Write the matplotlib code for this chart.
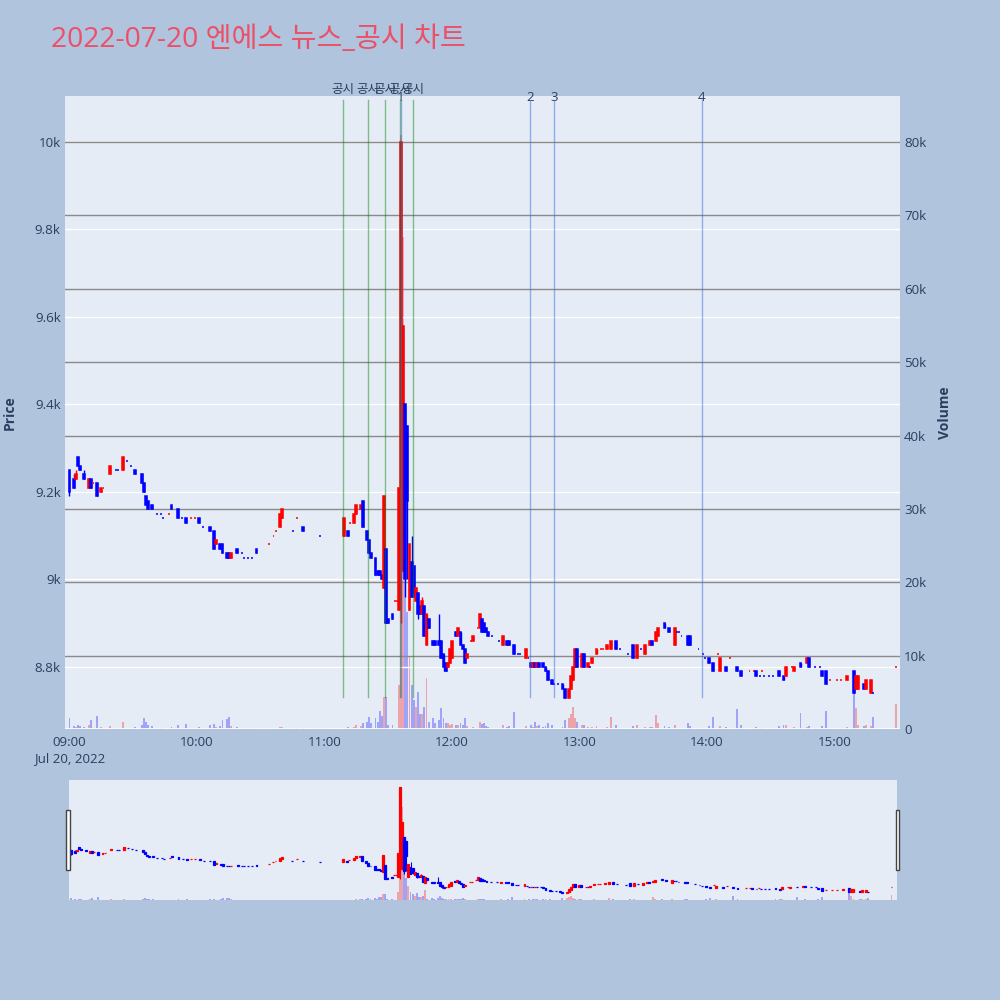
import numpy as np
import matplotlib.pyplot as plt
from matplotlib.patches import Rectangle
from matplotlib.transforms import blended_transform_factory

plt.rcParams['font.family'] = ['Open Sans', 'Noto Sans CJK KR', 'DejaVu Sans']

title = "2022-07-20 엔에스 뉴스_공시 차트"

# minutes after 09:00, one entry per traded minute
minutes = [0, 2, 3, 4, 5, 7, 9, 10, 11, 13, 15, 16, 19, 22, 23, 25, 27, 29, 31, 34,
           35, 36, 37, 39, 41, 43, 44, 47, 48, 51, 53, 55, 57, 59, 61, 63, 66, 68, 69, 71,
           72, 74, 75, 76, 79, 81, 82, 84, 86, 88, 94, 96, 97, 99, 100, 105, 107, 110, 118, 129,
           131, 132, 134, 135, 137, 138, 140, 141, 142, 144, 145, 146, 147, 148, 149, 150, 152, 153, 154, 155,
           156, 157, 158, 159, 160, 161, 162, 163, 164, 165, 166, 167, 168, 169, 171, 172, 174, 175, 176, 177,
           178, 179, 180, 182, 183, 184, 185, 186, 187, 189, 190, 192, 193, 194, 195, 196, 197, 199, 202, 204,
           206, 207, 209, 211, 212, 215, 216, 217, 218, 219, 220, 221, 223, 224, 225, 227, 228, 230, 232, 233,
           235, 236, 237, 238, 239, 241, 242, 244, 245, 246, 248, 250, 251, 253, 255, 257, 259, 263, 265, 267,
           269, 271, 273, 274, 276, 277, 280, 282, 285, 286, 287, 288, 291, 292, 296, 298, 299, 301, 303, 305,
           306, 309, 311, 314, 316, 320, 322, 323, 325, 326, 327, 329, 331, 334, 336, 337, 340, 341, 344, 347,
           348, 351, 353, 354, 356, 358, 361, 363, 366, 369, 370, 371, 374, 375, 377, 378, 389]

opens = [9250, 9230, 9230, 9280, 9260, 9240, 9210, 9230, 9220, 9220, 9200, 9210, 9240, 9250, 9250, 9250, 9270, 9260, 9250, 9240,
         9220, 9190, 9180, 9170, 9150, 9150, 9140, 9150, 9170, 9160, 9140, 9140, 9140, 9140, 9140, 9120, 9120, 9110, 9080, 9080,
         9080, 9060, 9060, 9050, 9070, 9060, 9050, 9050, 9050, 9070, 9080, 9100, 9110, 9120, 9140, 9110, 9140, 9120, 9100, 9100,
         9110, 9130, 9130, 9150, 9160, 9180, 9110, 9090, 9060, 9050, 9020, 9020, 9010, 8980, 9070, 8910, 8920, 8950, 8950, 8930,
         9210, 9020, 9400, 9350, 8930, 9040, 9030, 8950, 8970, 8940, 8920, 8940, 8850, 8910, 8860, 8860, 8860, 8860, 8830, 8810,
         8800, 8810, 8820, 8880, 8870, 8880, 8850, 8840, 8820, 8860, 8860, 8890, 8890, 8910, 8900, 8890, 8880, 8870, 8860, 8850,
         8860, 8860, 8850, 8830, 8830, 8820, 8820, 8810, 8800, 8810, 8800, 8810, 8810, 8800, 8790, 8770, 8760, 8760, 8760, 8750,
         8730, 8750, 8770, 8800, 8840, 8800, 8830, 8800, 8800, 8810, 8830, 8840, 8840, 8840, 8840, 8860, 8840, 8830, 8850, 8820,
         8840, 8830, 8850, 8860, 8860, 8870, 8900, 8890, 8850, 8880, 8880, 8870, 8870, 8870, 8840, 8830, 8820, 8820, 8810, 8830,
         8790, 8800, 8820, 8800, 8790, 8790, 8790, 8790, 8780, 8790, 8780, 8780, 8780, 8790, 8780, 8780, 8800, 8790, 8810, 8810,
         8820, 8800, 8800, 8790, 8790, 8770, 8770, 8770, 8770, 8790, 8750, 8750, 8760, 8750, 8740, 8740, 8800]

highs = [9250, 9240, 9250, 9280, 9260, 9250, 9230, 9230, 9220, 9220, 9210, 9210, 9260, 9250, 9250, 9280, 9270, 9260, 9250, 9240,
         9220, 9190, 9180, 9170, 9150, 9150, 9140, 9150, 9170, 9160, 9140, 9140, 9140, 9140, 9140, 9120, 9120, 9110, 9090, 9080,
         9080, 9060, 9060, 9060, 9070, 9060, 9050, 9050, 9050, 9070, 9080, 9100, 9110, 9150, 9160, 9110, 9140, 9120, 9100, 9140,
         9110, 9130, 9150, 9170, 9170, 9180, 9110, 9090, 9060, 9050, 9020, 9020, 9010, 9190, 9070, 8910, 8920, 8950, 8950, 9210,
         10000, 9580, 9400, 9350, 9080, 9100, 9030, 8980, 8970, 8940, 8960, 8940, 8920, 8910, 8860, 8860, 8920, 8860, 8830, 8810,
         8810, 8840, 8860, 8880, 8890, 8880, 8850, 8840, 8830, 8860, 8870, 8890, 8920, 8910, 8900, 8890, 8880, 8870, 8860, 8870,
         8860, 8860, 8850, 8830, 8830, 8840, 8820, 8810, 8810, 8810, 8810, 8810, 8810, 8800, 8790, 8770, 8760, 8760, 8760, 8750,
         8750, 8780, 8800, 8840, 8840, 8830, 8830, 8810, 8800, 8820, 8840, 8840, 8840, 8850, 8860, 8860, 8840, 8830, 8850, 8850,
         8840, 8850, 8860, 8860, 8880, 8890, 8900, 8890, 8890, 8880, 8880, 8870, 8870, 8870, 8840, 8830, 8820, 8820, 8810, 8830,
         8820, 8800, 8820, 8800, 8790, 8790, 8790, 8790, 8780, 8790, 8780, 8780, 8780, 8790, 8780, 8800, 8800, 8800, 8810, 8820,
         8820, 8800, 8800, 8790, 8790, 8770, 8770, 8770, 8780, 8790, 8780, 8780, 8760, 8770, 8770, 8740, 8800]

lows = [9190, 9210, 9230, 9260, 9250, 9230, 9210, 9210, 9220, 9190, 9200, 9210, 9240, 9250, 9250, 9250, 9270, 9260, 9240, 9220,
        9200, 9170, 9160, 9160, 9150, 9150, 9140, 9150, 9160, 9140, 9140, 9130, 9140, 9140, 9130, 9120, 9110, 9070, 9080, 9070,
        9060, 9050, 9050, 9050, 9060, 9060, 9050, 9050, 9050, 9060, 9080, 9100, 9110, 9120, 9140, 9110, 9140, 9110, 9100, 9100,
        9100, 9130, 9130, 9150, 9160, 9120, 9090, 9060, 9050, 9010, 9010, 9010, 9000, 8980, 8900, 8900, 8910, 8950, 8950, 8930,
        8900, 9020, 8960, 9000, 8930, 8960, 8960, 8950, 8910, 8920, 8920, 8870, 8850, 8890, 8850, 8850, 8850, 8820, 8790, 8790,
        8800, 8810, 8820, 8870, 8870, 8850, 8840, 8810, 8820, 8860, 8860, 8890, 8890, 8880, 8880, 8880, 8870, 8870, 8860, 8850,
        8850, 8850, 8830, 8830, 8830, 8820, 8820, 8800, 8800, 8800, 8800, 8800, 8800, 8790, 8770, 8760, 8760, 8760, 8750, 8730,
        8730, 8750, 8770, 8800, 8800, 8800, 8800, 8800, 8800, 8810, 8830, 8840, 8840, 8840, 8840, 8840, 8840, 8830, 8820, 8820,
        8840, 8830, 8850, 8850, 8860, 8870, 8890, 8880, 8850, 8880, 8880, 8870, 8850, 8850, 8840, 8830, 8820, 8810, 8790, 8830,
        8790, 8790, 8820, 8790, 8780, 8790, 8790, 8780, 8780, 8790, 8780, 8780, 8780, 8780, 8770, 8780, 8800, 8790, 8800, 8810,
        8800, 8800, 8800, 8780, 8760, 8770, 8770, 8770, 8770, 8740, 8750, 8750, 8750, 8750, 8740, 8740, 8800]

closes = [9200, 9210, 9240, 9260, 9250, 9230, 9230, 9210, 9220, 9190, 9210, 9210, 9260, 9250, 9250, 9280, 9270, 9260, 9240, 9220,
          9200, 9170, 9160, 9160, 9150, 9150, 9140, 9150, 9160, 9140, 9140, 9130, 9140, 9140, 9130, 9120, 9110, 9070, 9090, 9070,
          9060, 9050, 9050, 9060, 9060, 9060, 9050, 9050, 9050, 9060, 9080, 9100, 9110, 9150, 9160, 9110, 9140, 9110, 9100, 9140,
          9100, 9130, 9150, 9170, 9170, 9120, 9090, 9060, 9050, 9010, 9010, 9010, 9000, 9190, 8900, 8900, 8910, 8950, 8950, 9210,
          10000, 9580, 9000, 9180, 9080, 8960, 8970, 8980, 8920, 8920, 8950, 8870, 8920, 8890, 8850, 8850, 8850, 8820, 8800, 8790,
          8810, 8840, 8860, 8870, 8890, 8850, 8840, 8810, 8830, 8860, 8870, 8890, 8920, 8880, 8880, 8880, 8870, 8870, 8860, 8870,
          8850, 8850, 8830, 8830, 8830, 8840, 8820, 8800, 8810, 8800, 8810, 8800, 8800, 8790, 8770, 8760, 8760, 8760, 8750, 8730,
          8750, 8780, 8800, 8840, 8800, 8830, 8800, 8810, 8800, 8820, 8840, 8840, 8840, 8850, 8860, 8840, 8840, 8830, 8820, 8850,
          8840, 8850, 8860, 8850, 8880, 8890, 8890, 8880, 8890, 8880, 8880, 8870, 8850, 8850, 8840, 8830, 8820, 8810, 8790, 8830,
          8820, 8790, 8820, 8790, 8780, 8790, 8790, 8780, 8780, 8790, 8780, 8780, 8780, 8780, 8770, 8800, 8800, 8800, 8800, 8820,
          8800, 8800, 8800, 8780, 8760, 8770, 8770, 8770, 8780, 8740, 8780, 8780, 8750, 8770, 8770, 8740, 8800]

volumes = [1500, 400, 300, 600, 400, 300, 500, 1200, 200, 1800, 300, 100, 400, 100, 100, 1000, 100, 100, 300, 500,
           1500, 900, 600, 400, 100, 100, 100, 200, 300, 500, 100, 700, 100, 100, 300, 100, 500, 700, 300, 400,
           1200, 1300, 1600, 400, 300, 100, 100, 100, 100, 200, 100, 100, 100, 300, 300, 100, 100, 200, 100, 200,
           300, 100, 300, 500, 400, 800, 1000, 1600, 800, 1500, 900, 2500, 1800, 4400, 4400, 600, 500, 100, 100, 6000,
           81000, 67000, 30000, 16000, 10000, 6000, 4000, 3000, 5000, 2000, 2000, 3000, 7000, 1000, 1500, 800, 1200, 2800, 1500, 800,
           800, 600, 700, 500, 600, 800, 600, 1500, 400, 200, 300, 200, 1000, 700, 800, 400, 300, 100, 100, 500,
           300, 400, 2300, 100, 100, 400, 100, 600, 300, 1000, 400, 500, 300, 400, 800, 500, 100, 100, 300, 1200,
           1500, 2000, 3000, 1500, 1000, 500, 600, 300, 100, 300, 400, 100, 100, 300, 1600, 500, 100, 100, 400, 500,
           100, 300, 300, 300, 1900, 800, 400, 300, 600, 100, 100, 100, 800, 400, 100, 100, 100, 400, 1600, 100,
           400, 300, 100, 2700, 500, 100, 100, 300, 100, 100, 100, 100, 100, 400, 600, 500, 100, 300, 2200, 300,
           400, 100, 100, 400, 2500, 100, 100, 100, 300, 5700, 2900, 600, 400, 500, 400, 1700, 3400]

notice_times = ["11:08:48", "11:20:36", "11:28:36", "11:35:30", "11:41:36"]
notice_label = "공시"
news_times = ["11:35:54", "12:36:36", "12:48:06", "13:57:30"]
news_labels = ["1", "2", "3", "4"]

price_ticks = [8800, 9000, 9200, 9400, 9600, 9800, 10000]
price_tick_labels = ["8.8k", "9k", "9.2k", "9.4k", "9.6k", "9.8k", "10k"]
vol_ticks = [0, 10000, 20000, 30000, 40000, 50000, 60000, 70000, 80000]
vol_tick_labels = ["0", "10k", "20k", "30k", "40k", "50k", "60k", "70k", "80k"]
x_ticks = [0, 60, 120, 180, 240, 300, 360]
x_tick_labels = ["09:00\nJul 20, 2022", "10:00", "11:00", "12:00", "13:00", "14:00", "15:00"]

FIG_BG = '#B0C4DE'
PLOT_BG = '#E5ECF6'
TXT = '#2a3f5f'
RED = '#FF0000'
BLUE = '#0000FF'


def to_min(t):
    hh, mm, s = map(int, t.split(":"))
    return (hh - 9) * 60 + mm + s / 60.0


x = np.array(minutes, dtype=float)
o = np.array(opens, dtype=float)
h = np.array(highs, dtype=float)
l = np.array(lows, dtype=float)
c = np.array(closes, dtype=float)
v = np.array(volumes, dtype=float)
assert len(x) == len(o) == len(h) == len(l) == len(c) == len(v)

# plotly rule: ties take direction from the previous close
ups = []
prev_c, prev_up = None, False
for oo, cc in zip(o, c):
    if cc > oo:
        up = True
    elif cc < oo:
        up = False
    elif prev_c is not None and cc > prev_c:
        up = True
    elif prev_c is not None and cc < prev_c:
        up = False
    else:
        up = prev_up
    ups.append(up)
    prev_c, prev_up = cc, up
cols = [RED if u else BLUE for u in ups]
vcols = [(1, 0, 0, 0.3) if u else (0, 0, 1, 0.3) for u in ups]


def draw_candles(a, wick_lw, body_lw):
    a.vlines(x, l, h, colors=cols, linewidth=wick_lw, zorder=3)
    a.bar(x, np.abs(c - o), bottom=np.minimum(o, c), width=0.9, color=cols,
          edgecolor=cols, linewidth=body_lw, zorder=4)


fig = plt.figure(figsize=(10, 10), dpi=100, facecolor=FIG_BG)

# main chart
ax = fig.add_axes([0.065, 0.271, 0.835, 0.633])
ax2 = ax.twinx()
ax.set_zorder(3)
ax2.set_zorder(2)
ax.patch.set_visible(False)
ax2.patch.set_visible(True)
ax2.set_facecolor(PLOT_BG)

ax2.bar(x, v, width=0.9, color=vcols, linewidth=0)
ax.set_xlim(-2.1, 390.8)
ax.set_ylim(8658, 10105)
ax2.set_ylim(0, 86270)

ax.set_axisbelow(True)
ax.grid(axis='y', color='white', linewidth=1)
ax.grid(axis='x', visible=False)
blend = blended_transform_factory(ax.transAxes, ax2.transData)
for vt in vol_ticks[1:]:
    ax.plot([0, 1], [vt, vt], transform=blend, color='#8a8a8a', linewidth=1, zorder=1)
ax.plot([0, 1], [0, 0], transform=blend, color='white', linewidth=2, zorder=1)

draw_candles(ax, 1.0, 1.1)

for t in notice_times:
    tm = to_min(t)
    ax.axvline(tm, ymin=0.05, ymax=0.994, color='green', alpha=0.45, linewidth=1, zorder=5)
    ax.text(tm, 1.0095, notice_label, transform=blended_transform_factory(ax.transData, ax.transAxes),
            ha='center', va='center', fontsize=9, color=TXT,
            family=['Noto Sans CJK KR', 'DejaVu Sans'])
for t, lab in zip(news_times, news_labels):
    tm = to_min(t)
    ax.axvline(tm, ymin=0.05, ymax=0.994, color='royalblue', alpha=0.5, linewidth=1, zorder=5)
    ax.text(tm, 0.998, lab, transform=blended_transform_factory(ax.transData, ax.transAxes),
            ha='center', va='center', fontsize=9.5, color=TXT)

ax.set_yticks(price_ticks)
ax.set_yticklabels(price_tick_labels)
ax2.set_yticks(vol_ticks)
ax2.set_yticklabels(vol_tick_labels)
ax.set_xticks(x_ticks)
ax.set_xticklabels(x_tick_labels, linespacing=1.3)
ax.tick_params(axis='y', length=0, pad=3, labelsize=9.6, labelcolor=TXT)
ax2.tick_params(axis='y', length=0, pad=3, labelsize=9.6, labelcolor=TXT)
ax.tick_params(axis='x', length=0, pad=5, labelsize=9.6, labelcolor=TXT)
for a in (ax, ax2):
    for s in a.spines.values():
        s.set_visible(False)

fig.text(0.051, 0.96, title, fontsize=20.3, color='#EB5068', va='center', ha='left')
fig.text(0.010, 0.587, 'Price', rotation=90, fontsize=10, fontweight='bold', color=TXT,
         va='center', ha='center')
fig.text(0.945, 0.587, 'Volume', rotation=90, fontsize=10, fontweight='bold', color=TXT,
         va='center', ha='center')

# range slider
rs = fig.add_axes([0.069, 0.1, 0.828, 0.12])
rs2 = rs.twinx()
rs.set_zorder(3)
rs2.set_zorder(2)
rs.patch.set_visible(False)
rs2.patch.set_visible(True)
rs2.set_facecolor(PLOT_BG)
rs2.bar(x, v, width=0.9, color=vcols, linewidth=0)
draw_candles(rs, 0.8, 0.9)
rs.set_xlim(-0.9, 391.6)
rs.set_ylim(8650, 10080)
rs2.set_ylim(0, 86270)
for a in (rs, rs2):
    a.set_xticks([])
    a.set_yticks([])
    for s in a.spines.values():
        s.set_visible(False)

for hx in (0.066, 0.8955):
    fig.patches.append(Rectangle((hx, 0.13), 0.0035, 0.06, transform=fig.transFigure,
                                 facecolor='white', edgecolor='#444444', linewidth=1, zorder=10))

fig.savefig('out.png', dpi=100, facecolor=FIG_BG)
